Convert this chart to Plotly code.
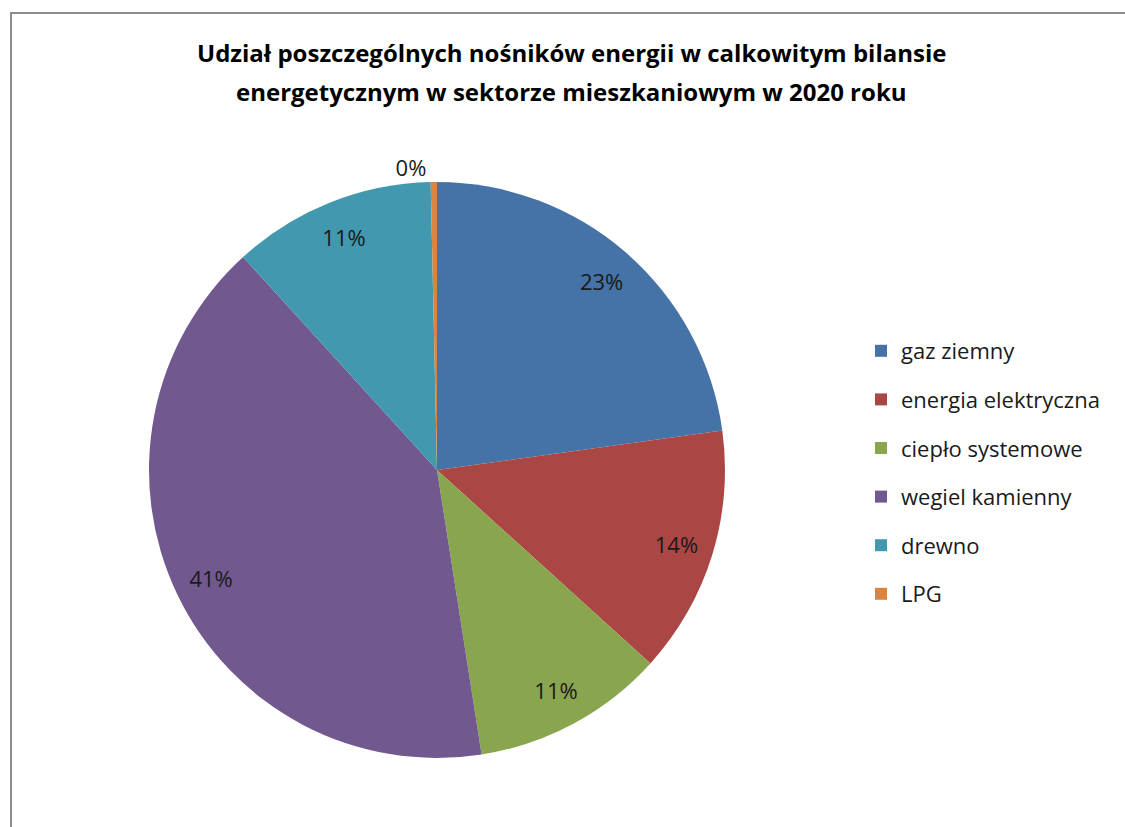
import plotly.graph_objects as go

labels = ["gaz ziemny", "energia elektryczna", "ciepło systemowe", "wegiel kamienny", "drewno", "LPG"]
values = [22.8, 13.9, 10.8, 40.7, 11.4, 0.35]
colors = ["#4572A7", "#AA4643", "#89A54E", "#71588F", "#4198AF", "#DB843D"]
title_lines = ["Udział poszczególnych nośników energii w calkowitym bilansie",
               "energetycznym w sektorze mieszkaniowym w 2020 roku"]

W, H = 1125, 827
FONT = "Open Sans"
dom = dict(x=[149 / W, 725 / W], y=[1 - 758 / H, 1 - 182 / H])

fig = go.Figure()
# solid pie
fig.add_trace(go.Pie(
    labels=labels, values=values, sort=False, direction="clockwise", rotation=0,
    marker=dict(colors=colors, line=dict(width=0)),
    textinfo="none", showlegend=False, hoverinfo="label+percent", domain=dom,
))
# transparent ring carrying the percentage labels near the rim
fig.add_trace(go.Pie(
    labels=labels, values=values, sort=False, direction="clockwise", rotation=0,
    hole=0.74,
    marker=dict(colors=["rgba(0,0,0,0)"] * len(values), line=dict(width=0)),
    texttemplate="%{percent:.0%}",
    textposition=["inside"] * 5 + ["outside"],
    insidetextorientation="horizontal",
    textfont=dict(family=FONT, size=22, color="#1a1a1a"),
    showlegend=False, hoverinfo="skip", domain=dom,
))

for i, (lab, col) in enumerate(zip(labels, colors)):
    fig.add_trace(go.Scatter(
        x=[None], y=[None], mode="markers", name=lab, legendgroup=str(i),
        marker=dict(symbol="square", size=12, color=col), showlegend=True,
    ))

annotations = []
for k, (line, yc) in enumerate(zip(title_lines, [53, 91])):
    annotations.append(dict(text="<b>" + line + "</b>",
                            x=571 / W, y=1 - yc / H, xref="paper", yref="paper",
                            xanchor="center", yanchor="middle", showarrow=False,
                            font=dict(family=FONT, size=24, color="#000000")))

fig.update_layout(
    width=W, height=H, margin=dict(l=0, r=0, t=0, b=0),
    paper_bgcolor="white", plot_bgcolor="white",
    xaxis=dict(visible=False), yaxis=dict(visible=False),
    font=dict(family=FONT, color="#1a1a1a"),
    legend=dict(x=861 / W, y=1 - 330 / H, xanchor="left", yanchor="top",
                font=dict(family=FONT, size=22, color="#1a1a1a"),
                tracegroupgap=17, itemwidth=30, bgcolor="rgba(0,0,0,0)"),
    annotations=annotations,
    shapes=[dict(type="rect", xref="paper", yref="paper",
                 x0=11 / W, x1=1.1, y0=-0.1, y1=1 - 13 / H,
                 line=dict(color="#8c8c8c", width=2), layer="below")],
)

fig.write_html("out.html")
